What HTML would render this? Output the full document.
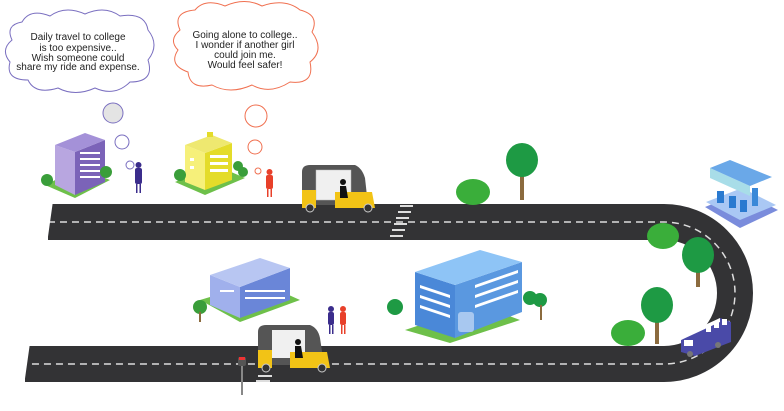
<!DOCTYPE html>
<html><head><style>
html,body{margin:0;padding:0;background:#fff;}
svg{display:block;}
text{font-family:"Liberation Sans",sans-serif;font-size:10px;fill:#222;}
</style></head><body>
<svg width="784" height="411" viewBox="0 0 784 411" xmlns="http://www.w3.org/2000/svg">
<!-- road -->
<path d="M48 222 L664 222 A71 71 0 0 1 664 364 L25 364" fill="none" stroke="#333335" stroke-width="36"/>
<path d="M48 222 L664 222 A71 71 0 0 1 664 364 L25 364" fill="none" stroke="#ddd" stroke-width="1.5" stroke-dasharray="7 5"/>
<rect x="40" y="200" width="10" height="45" fill="#fff" transform="rotate(8 45 222)"/>
<rect x="17" y="342" width="10" height="45" fill="#fff" transform="rotate(8 22 364)"/>
<!-- crosswalks -->
<g stroke="#ddd" stroke-width="2">
<line x1="400" y1="206" x2="413" y2="206"/><line x1="398" y1="212" x2="411" y2="212"/><line x1="396" y1="218" x2="409" y2="218"/><line x1="394" y1="224" x2="407" y2="224"/><line x1="392" y1="230" x2="405" y2="230"/><line x1="390" y1="236" x2="403" y2="236"/>
<line x1="258" y1="376" x2="272" y2="376"/><line x1="256" y1="381" x2="270" y2="381"/>
</g>
<!-- clouds -->
<g fill="#fff" stroke="#7a6fc0" stroke-width="1">
<path d="M12 40 Q5 25 22 22 Q30 8 50 16 Q65 5 85 14 Q105 5 120 16 Q145 12 148 30 Q160 45 148 60 Q155 82 130 82 Q115 97 95 88 Q75 97 58 88 Q35 95 28 80 Q5 80 10 62 Q0 50 12 40 Z"/>
</g>
<g fill="#fff" stroke="#f07050" stroke-width="1">
<path d="M180 30 Q172 12 195 10 Q205 -2 225 6 Q245 -3 262 6 Q285 -2 300 10 Q320 15 312 32 Q325 50 310 62 Q315 85 290 82 Q270 95 252 85 Q230 95 212 85 Q190 90 188 72 Q168 65 178 50 Q168 40 180 30 Z"/>
</g>
<text x="78" y="40" text-anchor="middle">Daily travel to college</text>
<text x="78" y="51" text-anchor="middle">is too expensive..</text>
<text x="78" y="61" text-anchor="middle">Wish someone could</text>
<text x="78" y="70" text-anchor="middle">share my ride and expense.</text>
<text x="245" y="38" text-anchor="middle">Going alone to college..</text>
<text x="245" y="48" text-anchor="middle">I wonder if another girl</text>
<text x="245" y="58" text-anchor="middle">could join me.</text>
<text x="245" y="68" text-anchor="middle">Would feel safer!</text>
<circle cx="113" cy="113" r="10" fill="#e4e4e4" stroke="#7a6fc0"/>
<circle cx="122" cy="142" r="7" fill="#fff" stroke="#7a6fc0"/>
<circle cx="130" cy="165" r="4" fill="#fff" stroke="#7a6fc0"/>
<circle cx="256" cy="116" r="11" fill="#fff" stroke="#f07050"/>
<circle cx="255" cy="147" r="7" fill="#fff" stroke="#f07050"/>
<circle cx="258" cy="171" r="3" fill="#fff" stroke="#f07050"/>
<!-- purple building -->
<polygon points="45,185 75,198 110,180 80,168" fill="#6ec04a"/>
<polygon points="55,145 75,152 75,195 55,185" fill="#b8a6e0"/>
<polygon points="75,152 105,140 105,182 75,195" fill="#7b63b8"/>
<polygon points="55,145 85,133 105,140 75,152" fill="#a491d8"/>
<g fill="#fff"><rect x="80" y="152" width="20" height="2"/><rect x="80" y="158" width="20" height="2"/><rect x="80" y="164" width="20" height="2"/><rect x="80" y="170" width="20" height="2"/><rect x="80" y="176" width="20" height="2"/></g>
<circle cx="47" cy="180" r="6" fill="#3a9e3a"/><circle cx="106" cy="172" r="6" fill="#3a9e3a"/>
<!-- girl purple -->
<rect x="135" y="168" width="7" height="16" rx="2" fill="#3b2d8c"/><circle cx="138.5" cy="165" r="3" fill="#3b2d8c"/><rect x="136" y="184" width="1.5" height="9" fill="#3b2d8c"/><rect x="139.5" y="184" width="1.5" height="9" fill="#3b2d8c"/>
<!-- yellow building -->
<polygon points="175,182 205,195 245,178 215,165" fill="#6ec04a"/>
<polygon points="185,145 205,153 205,190 185,182" fill="#f6f07a"/>
<polygon points="205,153 232,143 232,180 205,190" fill="#e4dc2a"/>
<polygon points="185,145 212,135 232,143 205,153" fill="#eee870"/>
<rect x="207" y="132" width="6" height="5" fill="#e4dc2a"/>
<g fill="#fff"><rect x="210" y="155" width="18" height="3"/><rect x="210" y="162" width="18" height="3"/><rect x="210" y="169" width="18" height="3"/><rect x="190" y="158" width="4" height="3"/><rect x="190" y="166" width="4" height="3"/></g>
<circle cx="180" cy="175" r="6" fill="#3a9e3a"/><circle cx="238" cy="166" r="5" fill="#3a9e3a"/><circle cx="243" cy="172" r="5" fill="#3a9e3a"/>
<!-- girl orange -->
<rect x="266" y="175" width="7" height="14" rx="2" fill="#e8402a"/><circle cx="269.5" cy="172" r="3" fill="#e8402a"/><rect x="267" y="189" width="1.5" height="8" fill="#e8402a"/><rect x="270.5" y="189" width="1.5" height="8" fill="#e8402a"/>
<!-- auto top -->
<path d="M302 205 L302 172 Q302 165 310 165 L355 165 Q362 168 365 178 L368 205 Z" fill="#555"/>
<rect x="316" y="170" width="35" height="30" fill="#f0f0f0" stroke="#bbb" stroke-width="0.5"/>
<path d="M302 190 L316 190 L316 208 L302 208 Z M335 192 L372 192 L375 208 L335 208 Z" fill="#f2c316"/>
<circle cx="343" cy="182" r="3" fill="#111"/><path d="M340 186 L346 186 L348 198 L340 198 Z" fill="#111"/>
<circle cx="310" cy="208" r="4" fill="#333" stroke="#ccc"/><circle cx="368" cy="208" r="4" fill="#333" stroke="#ccc"/>
<!-- bush & tree top -->
<ellipse cx="473" cy="192" rx="17" ry="13" fill="#3aae3a"/>
<rect x="520" y="170" width="4" height="30" fill="#8b6b3e"/><ellipse cx="522" cy="160" rx="16" ry="17" fill="#1e9a44"/>
<!-- gas station -->
<polygon points="705,207 740,228 778,210 742,192" fill="#7a8cdc"/>
<polygon points="706,202 740,220 776,205 742,188" fill="#aac8f4"/>
<rect x="717" y="191" width="7" height="12" fill="#2a7ad0"/><rect x="729" y="196" width="7" height="12" fill="#2a7ad0"/><rect x="740" y="200" width="7" height="12" fill="#2a7ad0"/>
<polygon points="710,168 750,186 750,196 710,178" fill="#a8dde8"/>
<polygon points="710,168 730,160 772,177 750,186" fill="#6aa8e8"/>
<rect x="752" y="188" width="6" height="18" fill="#3a88d8"/>
<!-- bottom buildings -->
<polygon points="200,300 240,322 300,300 260,282" fill="#6ec04a"/>
<polygon points="210,275 240,287 240,318 210,305" fill="#a0b0ec"/>
<polygon points="240,287 290,268 290,300 240,318" fill="#6a86d8"/>
<polygon points="210,275 260,258 290,268 240,287" fill="#b8c6f2"/>
<g fill="#fff"><rect x="245" y="290" width="40" height="2"/><rect x="245" y="297" width="40" height="2"/><rect x="220" y="290" width="14" height="2"/></g>
<circle cx="200" cy="307" r="7" fill="#3a9e3a"/><rect x="199" y="312" width="2" height="10" fill="#8b6b3e"/>
<!-- blue building -->
<polygon points="405,330 450,343 520,320 480,305" fill="#6ec04a"/>
<polygon points="415,272 455,285 455,338 415,325" fill="#4a88d8"/>
<polygon points="455,285 522,262 522,312 455,338" fill="#5a98e0"/>
<polygon points="415,272 480,250 522,262 455,285" fill="#8ec4f6"/>
<g fill="#fff"><path d="M420 285 L450 295 L450 298 L420 288Z M420 295 L450 305 L450 308 L420 298Z M420 305 L450 315 L450 318 L420 308Z M475 285 L518 270 L518 273 L475 288Z M475 295 L518 280 L518 283 L475 298Z M475 305 L518 290 L518 293 L475 308Z"/></g>
<rect x="458" y="312" width="16" height="20" rx="3" fill="#a8c8f0"/>
<circle cx="395" cy="307" r="8" fill="#1e9a44"/><circle cx="530" cy="298" r="7" fill="#1e9a44"/><circle cx="540" cy="300" r="7" fill="#1e9a44"/><rect x="540" y="305" width="2" height="15" fill="#8b6b3e"/>
<!-- girls bottom -->
<rect x="328" y="312" width="6" height="13" rx="2" fill="#3b2d8c"/><circle cx="331" cy="309" r="3" fill="#3b2d8c"/><rect x="329" y="325" width="1.5" height="9" fill="#3b2d8c"/><rect x="332" y="325" width="1.5" height="9" fill="#3b2d8c"/>
<rect x="340" y="312" width="6" height="13" rx="2" fill="#e8402a"/><circle cx="343" cy="309" r="3" fill="#e8402a"/><rect x="341" y="325" width="1.5" height="9" fill="#e8402a"/><rect x="344" y="325" width="1.5" height="9" fill="#e8402a"/>
<!-- auto bottom -->
<path d="M258 365 L258 332 Q258 325 266 325 L310 325 Q318 328 320 338 L324 365 Z" fill="#555"/>
<rect x="272" y="330" width="33" height="28" fill="#f0f0f0"/>
<path d="M258 350 L272 350 L272 368 L258 368 Z M290 352 L327 352 L330 368 L290 368 Z" fill="#f2c316"/>
<circle cx="298" cy="342" r="3" fill="#111"/><path d="M295 346 L301 346 L303 358 L295 358 Z" fill="#111"/>
<circle cx="266" cy="368" r="4" fill="#333" stroke="#ccc"/><circle cx="322" cy="368" r="4" fill="#333" stroke="#ccc"/>
<!-- parking meter -->
<rect x="241" y="365" width="2" height="30" fill="#888"/><rect x="238" y="357" width="8" height="9" rx="2" fill="#555"/><rect x="239" y="357" width="6" height="3" fill="#e33"/>
<!-- right trees -->
<ellipse cx="663" cy="236" rx="16" ry="13" fill="#3aae3a"/>
<rect x="696" y="262" width="4" height="25" fill="#8b6b3e"/><ellipse cx="698" cy="255" rx="16" ry="18" fill="#1e9a44"/>
<rect x="655" y="310" width="4" height="34" fill="#8b6b3e"/><ellipse cx="657" cy="305" rx="16" ry="18" fill="#1e9a44"/>
<ellipse cx="628" cy="333" rx="17" ry="13" fill="#3aae3a"/>
<!-- bus -->
<polygon points="681,340 720,318 731,322 731,342 695,356 681,352" fill="#4a4aa8"/>
<polygon points="681,336 720,318 720,322 681,340" fill="#fff"/>
<g fill="#fff"><rect x="706" y="326" width="5" height="6"/><rect x="714" y="322" width="5" height="6"/><rect x="722" y="319" width="5" height="6"/><rect x="684" y="340" width="9" height="6"/></g>
<circle cx="690" cy="354" r="3" fill="#777"/><circle cx="718" cy="345" r="3" fill="#777"/>
</svg>
</body></html>
